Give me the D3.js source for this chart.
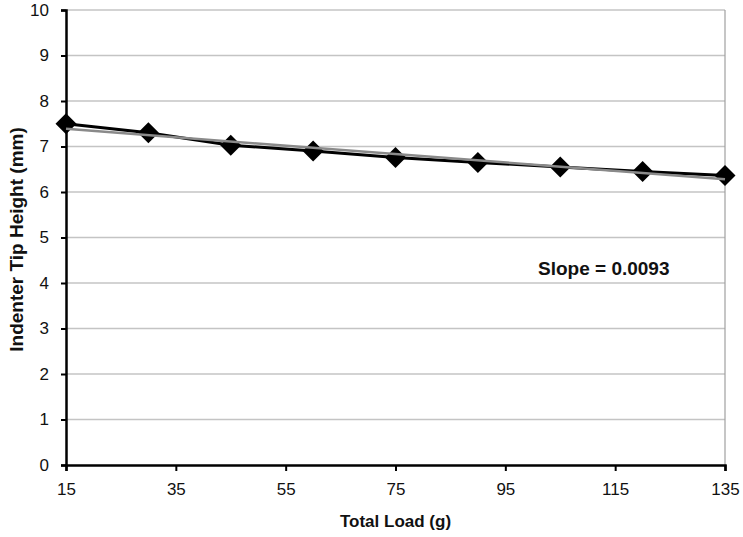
<!DOCTYPE html>
<html>
<head>
<meta charset="utf-8">
<script src="https://cdn.jsdelivr.net/npm/d3@7"></script>
<style>
  html, body { margin: 0; padding: 0; background: #fff; }
  svg { display: block; font-family: "Liberation Sans", Arial, sans-serif; }
</style>
</head>
<body>
<svg id="chart" width="743" height="537"></svg>
<script>
// Data
const loads = [15, 30, 45, 60, 75, 90, 105, 120, 135];
const heights = [7.5, 7.3, 7.03, 6.9, 6.76, 6.65, 6.55, 6.45, 6.36];
const xTicks = [15, 35, 55, 75, 95, 115, 135];
const yTicks = [0, 1, 2, 3, 4, 5, 6, 7, 8, 9, 10];
const slopeLabel = "Slope = 0.0093";
const xTitle = "Total Load (g)";
const yTitle = "Indenter Tip Height (mm)";

const svg = d3.select("#chart");
const m = { left: 66, right: 725, top: 10, bottom: 465 };

const x = d3.scaleLinear().domain([15, 135]).range([m.left, m.right]);
const y = d3.scaleLinear().domain([0, 10]).range([m.bottom, m.top]);

// gridlines
svg.append("g").selectAll("line").data(yTicks.filter(d => d > 0)).join("line")
  .attr("x1", m.left).attr("x2", m.right)
  .attr("y1", d => y(d)).attr("y2", d => y(d))
  .attr("stroke", "#c4c4c4").attr("stroke-width", 1.5);
// right border
svg.append("line").attr("x1", m.right).attr("x2", m.right)
  .attr("y1", m.top).attr("y2", m.bottom)
  .attr("stroke", "#a0a0a0").attr("stroke-width", 1.2);

// axes
const yAxis = svg.append("g").attr("transform", `translate(${m.left},0)`)
  .call(d3.axisLeft(y).tickValues(yTicks).tickSize(5).tickPadding(12).tickFormat(d3.format("d")));
const xAxis = svg.append("g").attr("transform", `translate(0,${m.bottom})`)
  .call(d3.axisBottom(x).tickValues(xTicks).tickSize(6).tickPadding(12).tickFormat(d3.format("d")));
[yAxis, xAxis].forEach(g => {
  g.select(".domain").attr("stroke", "#000").attr("stroke-width", 2.5);
  g.selectAll(".tick line").attr("stroke", "#000").attr("stroke-width", 2);
  g.selectAll("text").attr("font-size", 17).attr("fill", "#111")
    .attr("font-family", "'Liberation Sans', Arial, sans-serif");
});

// data line
const pts = loads.map((d, i) => [d, heights[i]]);
svg.append("path").datum(pts)
  .attr("fill", "none").attr("stroke", "#000").attr("stroke-width", 3)
  .attr("d", d3.line().x(d => x(d[0])).y(d => y(d[1])));

// markers (diamonds)
const r = 10.5;
svg.append("g").selectAll("path").data(pts).join("path")
  .attr("d", d => {
    const cx = x(d[0]), cy = y(d[1]);
    return `M${cx},${cy - r}L${cx + r},${cy}L${cx},${cy + r}L${cx - r},${cy}Z`;
  })
  .attr("fill", "#000");

// linear trend line (least squares on the data)
const mx = d3.mean(loads), my = d3.mean(heights);
const b = d3.sum(loads, (d, i) => (d - mx) * (heights[i] - my)) / d3.sum(loads, d => (d - mx) ** 2);
const a = my - b * mx;
const ends = [15, 135];
svg.append("path").datum(ends)
  .attr("fill", "none").attr("stroke", "#8a8a8a").attr("stroke-width", 2.5)
  .attr("d", d3.line().x(d => x(d)).y(d => y(a + b * d)));

// annotation
svg.append("text").attr("x", 538).attr("y", 275)
  .attr("font-size", 19).attr("font-weight", "bold").attr("fill", "#111")
  .text(slopeLabel);

// axis titles
svg.append("text").attr("x", (m.left + m.right) / 2).attr("y", 527)
  .attr("text-anchor", "middle").attr("font-size", 17).attr("font-weight", "bold").attr("fill", "#111")
  .text(xTitle);
svg.append("text").attr("transform", `translate(23,${(m.top + m.bottom) / 2 + 2}) rotate(-90)`)
  .attr("text-anchor", "middle").attr("font-size", 19).attr("font-weight", "bold").attr("fill", "#111")
  .text(yTitle);
</script>
</body>
</html>
